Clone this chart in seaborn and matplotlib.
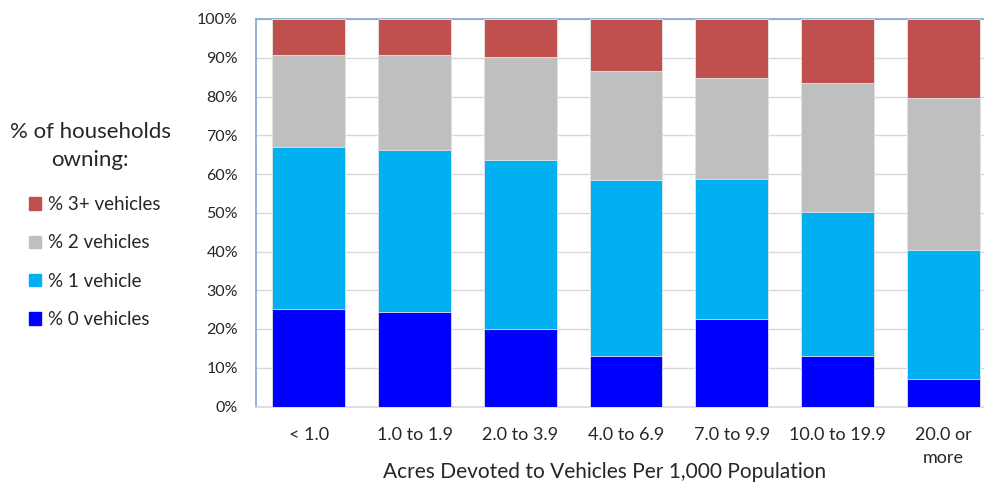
import matplotlib
matplotlib.use("Agg")
import matplotlib.pyplot as plt
import matplotlib.patches as mpatches
import seaborn as sns
import numpy as np
import pandas as pd

categories = ["< 1.0", "1.0 to 1.9", "2.0 to 3.9", "4.0 to 6.9", "7.0 to 9.9", "10.0 to 19.9", "20.0 or\nmore"]
pct_0 = [25.2, 24.5, 20.1, 13.1, 22.5, 13.1, 7.1]
pct_1 = [41.8, 41.8, 43.4, 45.3, 36.3, 37.1, 33.2]
pct_2 = [23.7, 24.4, 26.7, 28.3, 26.0, 33.4, 39.3]
pct_3 = [9.3, 9.3, 9.8, 13.3, 15.2, 16.4, 20.4]
series_names = ["% 0 vehicles", "% 1 vehicle", "% 2 vehicles", "% 3+ vehicles"]
colors = ["#0000FF", "#00B0F0", "#BFBFBF", "#C0504D"]

sns.set_theme(style="white")
plt.rcParams["font.family"] = ["Lato", "DejaVu Sans"]

df = pd.DataFrame({"cat": categories, "s0": pct_0, "s1": pct_1, "s2": pct_2, "s3": pct_3})
cum = df[["s0", "s1", "s2", "s3"]].cumsum(axis=1)

fig = plt.figure(figsize=(9.84, 4.83), dpi=100)
ax = fig.add_axes([256 / 984, 1 - 406.5 / 483, 740 / 984, 387.5 / 483])

for i in reversed(range(4)):
    sns.barplot(x=df["cat"], y=cum.iloc[:, i], color=colors[i], width=0.69,
                ax=ax, saturation=1, edgecolor="#e6e6e6", linewidth=0.6, zorder=3)

txt = "#262626"
ax.set_ylim(0, 100)
ax.set_xlim(-0.5, 6.5)
ax.set_yticks(np.arange(0, 101, 10))
ax.set_yticklabels([f"{v}%" for v in range(0, 101, 10)], fontsize=11.5, color=txt)
ax.tick_params(axis="x", labelsize=13, colors=txt, pad=15, length=0)
ax.tick_params(axis="y", length=0, pad=13)
ax.yaxis.grid(True, color="#d9d9d9", linewidth=1, zorder=0)
ax.set_axisbelow(True)
ax.set_ylabel("")
ax.set_xlabel("Acres Devoted to Vehicles Per 1,000 Population", fontsize=15, color=txt)
ax.xaxis.set_label_coords(0.4716, -0.168)
ax.xaxis.label.set_va("center")
for lbl in ax.get_xticklabels():
    lbl.set_linespacing(1.5)

ax.spines["left"].set_color("#7fa6d6")
ax.spines["top"].set_color("#7fa6d6")
ax.spines["bottom"].set_color("#d9d9d9")
ax.spines["right"].set_visible(False)
for s in ["left", "top", "bottom"]:
    ax.spines[s].set_linewidth(1.2)

fig.text(90 / 984, 1 - 145.5 / 483, "% of households\nowning:", ha="center", va="center",
         fontsize=16, color=txt, linespacing=1.5, multialignment="center")

handles = [mpatches.Patch(color=colors[i], label=series_names[i]) for i in [3, 2, 1, 0]]
leg = fig.legend(handles=handles, loc="upper left",
                 bbox_to_anchor=(29 / 984, 1 - 196 / 483), frameon=False, fontsize=13.5,
                 handlelength=0.65, handleheight=0.65, borderpad=0,
                 handletextpad=0.35, labelspacing=1.14, borderaxespad=0)
for t in leg.get_texts():
    t.set_color(txt)

fig.savefig("out.png", dpi=100)
